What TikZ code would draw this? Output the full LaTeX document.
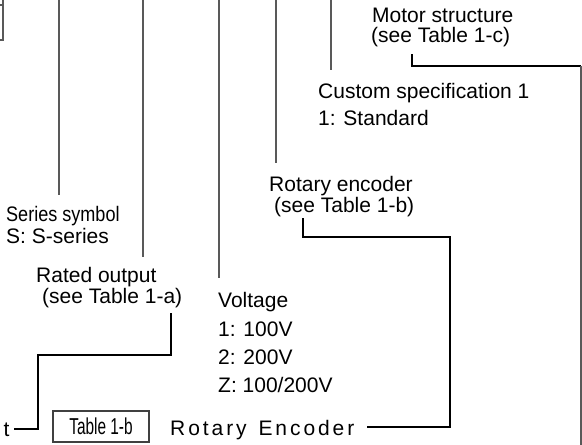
\documentclass[tikz,border=0pt]{standalone}
\usepackage{fontspec}
\setmainfont{Liberation Sans}
\begin{document}
\begin{tikzpicture}[x=1pt,y=-1pt,
  lbl/.style={anchor=base west,inner sep=0pt,font=\fontsize{21}{25}\selectfont},
  thinln/.style={draw=black!65,line width=1.1pt},
  thickln/.style={draw=black,line width=2.6pt,line join=miter,line cap=butt},
  tabbox/.style={draw=black!75,line width=1.2pt,minimum width=96pt,minimum height=31pt,inner sep=0pt,
    font=\fontsize{23}{25}\selectfont}]
\useasboundingbox (0,0) rectangle (582,445);

% partial box at top-left
\draw[thinln] (0,5) -- (3,5) -- (3,40) -- (0,40);
\draw[thinln] (3,0) -- (3,5);

% text labels
\node[lbl] (motor1) at (372,22) {Motor structure};
\node[lbl] (motor2) at (371,42) {(see Table 1-c)};
\node[lbl] (cust1) at (318,98) {Custom specification 1};
\node[lbl] (cust2) at (318,125) {1: Standard};
\node[lbl] (renc1) at (269,191) {Rotary encoder};
\node[lbl] (renc2) at (274,212) {(see Table 1-b)};
\node[lbl] (ser1) at (6,221) {\addfontfeatures{FakeStretch=0.86}Series symbol};
\node[lbl] (ser2) at (6,243) {S: S-series};
\node[lbl] (rated1) at (36,282) {Rated output};
\node[lbl] (rated2) at (42,303) {(see Table 1-a)};
\node[lbl] (volt) at (218,307) {Voltage};
\node[lbl] (v1) at (218,336) {1: 100V};
\node[lbl] (v2) at (218,364) {2: 200V};
\node[lbl] (v3) at (218,392) {Z: 100/200V};
\node[lbl] (tt) at (3.5,436) {t};
\node[tabbox] (tab) at (101,426.5) {\addfontfeatures{FakeStretch=0.67}Table 1-b};
\node[lbl] (renc) at (170,435) {\addfontfeatures{LetterSpace=14}Rotary\hspace{3pt} Encoder};

% thin leader lines from the code above
\coordinate (s1) at (59,0);   \coordinate (e1) at (59,195);
\coordinate (s2) at (143,0);  \coordinate (e2) at (143,257);
\coordinate (s3) at (219,0);  \coordinate (e3) at (219,278);
\coordinate (s4) at (276,0);  \coordinate (e4) at (276,163);
\coordinate (s5) at (331,0);  \coordinate (e5) at (331,70);
\draw[thinln] (s1) -- (e1);
\draw[thinln] (s2) -- (e2);
\draw[thinln] (s3) -- (e3);
\draw[thinln] (s4) -- (e4);
\draw[thinln] (s5) -- (e5);

% motor structure connector
\coordinate (m0) at (412,54);
\coordinate (m1) at (581,66);
\coordinate (m2) at (581,445);
\draw[thickln] (m0) |- (m1);
\draw[thinln] (m1) -- (m2);

% rotary encoder connector
\coordinate (r0) at (303,218);
\coordinate (r1) at (450,237);
\coordinate (r2) at (367,427);
\draw[thickln] (r0) |- (r1) |- (r2);

% rated output connector
\coordinate (a0) at (171,313);
\coordinate (a1) at (38,355);
\coordinate (a2) at (14,429);
\draw[thickln] (a0) |- (a1) |- (a2);
\end{tikzpicture}
\end{document}
